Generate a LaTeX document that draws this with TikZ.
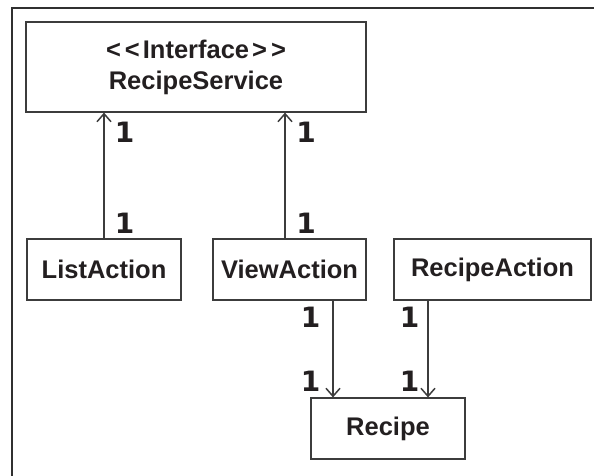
\documentclass[tikz,border=0pt]{standalone}
\usepackage{fontspec}
\setmainfont{Liberation Sans}
\newfontfamily\numfont{DejaVu Sans}
\usetikzlibrary{arrows.meta,calc}
\definecolor{ink}{HTML}{231F20}
\definecolor{edge}{HTML}{3C3C3C}
\tikzset{
  classbox/.style={draw=edge, line width=1.2pt, inner sep=0pt, text=ink,
    font=\fontsize{25.5}{31}\selectfont\bfseries, align=center},
  mult/.style={inner sep=0pt, text=ink, font=\numfont\fontsize{28}{30}\selectfont\bfseries},
  assoc/.style={draw=edge, line width=1.2pt, -{Straight Barb[length=8pt,width=14pt,line width=1.5pt]}},
  frameline/.style={draw=edge!80!black, line width=1.6pt}
}
\begin{document}
\begin{tikzpicture}[x=1pt,y=-1pt]
\useasboundingbox (0,0) rectangle (594,475);
% outer frame (extends past the right and bottom edges)
\begin{scope}
\clip (0,0) rectangle (594,475);
\draw[frameline] (12,8) rectangle (620,500);
\end{scope}

\node[classbox, minimum width=340pt, minimum height=90pt] (RS) at (196,67)
  {<\kern4pt<\kern3pt Interface\kern3pt>\kern4pt>\\RecipeService};
\node[classbox, minimum width=154pt, minimum height=61pt] (LA) at (104,269.5) {ListAction};
\node[classbox, minimum width=153pt, minimum height=61pt] (VA) at (289.5,269.5) {ViewAction};
\node[classbox, minimum width=197pt, minimum height=61pt] (RA) at (492.5,269.5) {RecipeAction};
\node[classbox, minimum width=154pt, minimum height=61pt] (R) at (388,428.5) {Recipe};

% connectors
\draw[assoc] (LA.north) -- (LA.north |- RS.south);
\draw[assoc] ([xshift=-4.5pt]VA.north) -- ([xshift=-4.5pt]VA.north |- RS.south);
\draw[assoc] ([xshift=43.5pt]VA.south) -- ([xshift=43.5pt]VA.south |- R.north);
\draw[assoc] ([xshift=-64.5pt]RA.south) -- ([xshift=-64.5pt]RA.south |- R.north);

% multiplicities
\node[mult] (m1) at (124.5,132) {1};
\node[mult] (m2) at (306,132) {1};
\node[mult] (m3) at (124.5,223) {1};
\node[mult] (m4) at (306,223) {1};
\node[mult] (m5) at (310.5,317) {1};
\node[mult] (m6) at (409.5,317) {1};
\node[mult] (m7) at (310.5,381) {1};
\node[mult] (m8) at (409.5,381) {1};
\end{tikzpicture}
\end{document}
